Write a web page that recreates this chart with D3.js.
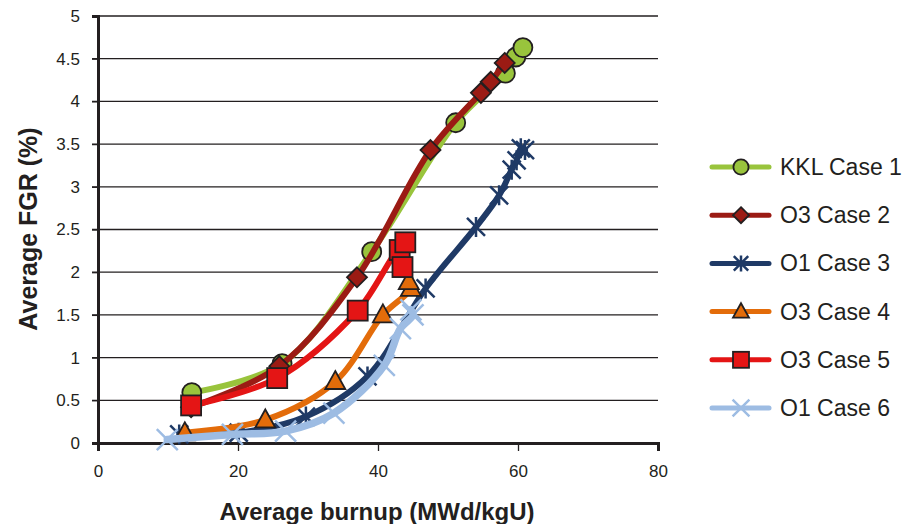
<!DOCTYPE html>
<html>
<head>
<meta charset="utf-8">
<script src="https://cdn.jsdelivr.net/npm/d3@7"></script>
<style>
  body { margin: 0; background: #fff; }
  text { font-family: "Liberation Sans", Arial, sans-serif; fill: #231f20; }
</style>
</head>
<body>
<div id="chart"></div>
<script>
const seriesNames = ["KKL Case 1", "O3 Case 2", "O1 Case 3", "O3 Case 4", "O3 Case 5", "O1 Case 6"];

const kkl1Burnup = [13.4, 26.3, 39.1, 51.1, 58.2, 59.7, 60.7];
const kkl1Fgr = [0.59, 0.93, 2.24, 3.75, 4.33, 4.52, 4.63];

const o3c2Burnup = [13.3, 25.9, 37.0, 47.5, 54.7, 56.1, 58.1];
const o3c2Fgr = [0.42, 0.9, 1.94, 3.43, 4.1, 4.23, 4.45];

const o1c3Burnup = [11.6, 20.1, 29.7, 38.5, 46.8, 54.0, 57.3, 59.1, 59.8, 60.4, 61.0];
const o1c3Fgr = [0.1, 0.12, 0.31, 0.78, 1.81, 2.53, 2.9, 3.2, 3.31, 3.45, 3.43];

const o3c4Burnup = [12.4, 23.9, 33.9, 40.7, 44.7, 44.4];
const o3c4Fgr = [0.12, 0.27, 0.72, 1.5, 1.81, 1.89];

const o3c5Burnup = [13.3, 25.6, 37.1, 43.1, 43.5, 43.9];
const o3c5Fgr = [0.44, 0.76, 1.55, 2.26, 2.06, 2.35];

const o1c6Burnup = [9.9, 19.2, 26.8, 33.7, 40.9, 43.2, 45.0, 44.7];
const o1c6Fgr = [0.04, 0.1, 0.14, 0.35, 0.91, 1.34, 1.5, 1.56];

const xTicks = [0, 20, 40, 60, 80];
const yTicks = [0, 0.5, 1, 1.5, 2, 2.5, 3, 3.5, 4, 4.5, 5];

const series = [
  { name: seriesNames[0], x: kkl1Burnup, y: kkl1Fgr, color: "#99c43c", marker: "circle" },
  { name: seriesNames[1], x: o3c2Burnup, y: o3c2Fgr, color: "#9b1b14", marker: "diamond" },
  { name: seriesNames[2], x: o1c3Burnup, y: o1c3Fgr, color: "#1f3a66", marker: "star" },
  { name: seriesNames[3], x: o3c4Burnup, y: o3c4Fgr, color: "#e36c0a", marker: "triangle" },
  { name: seriesNames[4], x: o3c5Burnup, y: o3c5Fgr, color: "#e41515", marker: "square" },
  { name: seriesNames[5], x: o1c6Burnup, y: o1c6Fgr, color: "#9dbce3", marker: "cross" }
];

const width = 905, height = 524;
const plot = { left: 98, right: 658, top: 16, bottom: 443 };

const svg = d3.select("#chart").append("svg")
  .attr("width", width)
  .attr("height", height);

const x = d3.scaleLinear().domain([0, 80]).range([plot.left, plot.right]);
const y = d3.scaleLinear().domain([0, 5]).range([plot.bottom, plot.top]);

// gridlines
svg.append("g")
  .selectAll("line")
  .data(yTicks.filter(d => d > 0))
  .enter().append("line")
  .attr("x1", plot.left - 6).attr("x2", plot.right)
  .attr("y1", d => y(d)).attr("y2", d => y(d))
  .attr("stroke", "#231f20").attr("stroke-width", 1.3);

// y axis
const yAxis = svg.append("g")
  .attr("transform", `translate(${plot.left},0)`)
  .call(d3.axisLeft(y).tickValues(yTicks).tickSize(6).tickPadding(12).tickFormat(d3.format("")));
yAxis.select(".domain").attr("stroke", "#231f20").attr("stroke-width", 3);
yAxis.selectAll(".tick line").attr("stroke", "#231f20").attr("stroke-width", 1.3);
yAxis.selectAll(".tick text").attr("font-size", 17).attr("font-family", "Liberation Sans, Arial, sans-serif").attr("fill", "#231f20");

// x axis
const xAxis = svg.append("g")
  .attr("transform", `translate(0,${plot.bottom})`)
  .call(d3.axisBottom(x).tickValues(xTicks).tickSize(8).tickPadding(14));
xAxis.select(".domain").attr("stroke", "#231f20").attr("stroke-width", 3);
xAxis.selectAll(".tick line").attr("stroke", "#231f20").attr("stroke-width", 1.3);
xAxis.selectAll(".tick text").attr("font-size", 17).attr("font-family", "Liberation Sans, Arial, sans-serif").attr("fill", "#231f20");

// axis titles
svg.append("text")
  .attr("x", 377)
  .attr("y", 520)
  .attr("text-anchor", "middle")
  .attr("font-size", 24)
  .attr("font-weight", "bold")
  .text("Average burnup (MWd/kgU)");

svg.append("text")
  .attr("transform", "translate(37,229) rotate(-90)")
  .attr("text-anchor", "middle")
  .attr("font-size", 25)
  .attr("font-weight", "bold")
  .text("Average FGR (%)");

function drawMarker(g, type, color, s) {
  if (type === "circle") {
    g.append("circle").attr("r", s * 0.95)
      .attr("fill", color).attr("stroke", "#231f20").attr("stroke-width", 1.8);
  } else if (type === "diamond") {
    g.append("path")
      .attr("d", `M0,${-s}L${s},0L0,${s}L${-s},0Z`)
      .attr("fill", color).attr("stroke", "#231f20").attr("stroke-width", 1.8);
  } else if (type === "square") {
    const h = s * 1.0;
    g.append("rect").attr("x", -h).attr("y", -h).attr("width", 2 * h).attr("height", 2 * h)
      .attr("fill", color).attr("stroke", "#231f20").attr("stroke-width", 1.8);
  } else if (type === "triangle") {
    g.append("path")
      .attr("d", `M0,${-s * 1.05}L${s},${s * 0.75}L${-s},${s * 0.75}Z`)
      .attr("fill", color).attr("stroke", "#231f20").attr("stroke-width", 1.8)
      .attr("stroke-linejoin", "miter");
  } else if (type === "star") {
    const k = s * 0.9;
    g.append("path")
      .attr("d", `M${-k},${-k}L${k},${k}M${k},${-k}L${-k},${k}M0,${-s}L0,${s}`)
      .attr("fill", "none").attr("stroke", color).attr("stroke-width", 2.5);
  } else if (type === "cross") {
    const k = s * 1.05;
    g.append("path")
      .attr("d", `M${-k},${-k}L${k},${k}M${k},${-k}L${-k},${k}`)
      .attr("fill", "none").attr("stroke", color).attr("stroke-width", 2.5);
  }
}

series.forEach(s => {
  const pts = s.x.map((v, i) => [v, s.y[i]]);
  const lineGen = d3.line().x(d => x(d[0])).y(d => y(d[1])).curve(d3.curveCatmullRom.alpha(0.5));
  const g = svg.append("g");
  g.append("path")
    .attr("d", lineGen(pts))
    .attr("fill", "none")
    .attr("stroke", s.color)
    .attr("stroke-width", s.marker === "cross" ? 7.5 : 6)
    .attr("stroke-linejoin", "round")
    .attr("stroke-linecap", "round");
  g.selectAll(".m")
    .data(pts)
    .enter().append("g")
    .attr("transform", d => `translate(${x(d[0])},${y(d[1])})`)
    .each(function () { drawMarker(d3.select(this), s.marker, s.color, 10); });
});

// legend
const legend = svg.append("g")
  .selectAll("g")
  .data(series)
  .enter().append("g")
  .attr("transform", (d, i) => `translate(712,${167 + i * 48.2})`);

legend.append("line")
  .attr("x1", 0).attr("x2", 57)
  .attr("stroke", d => d.color)
  .attr("stroke-width", 5)
  .attr("stroke-linecap", "round");

legend.append("g")
  .attr("transform", "translate(29,0)")
  .each(function (d) { drawMarker(d3.select(this), d.marker, d.color, 8); });

legend.append("text")
  .attr("x", 68)
  .attr("y", 8)
  .attr("font-size", 23)
  .text(d => d.name);
</script>
</body>
</html>
